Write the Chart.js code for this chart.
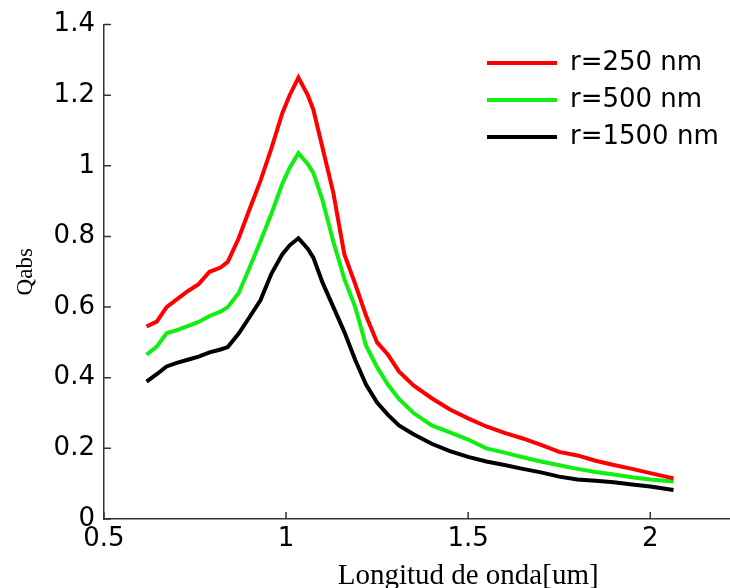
<!DOCTYPE html>
<html>
<head>
<meta charset="utf-8">
<script src="https://cdn.jsdelivr.net/npm/chart.js@4/dist/chart.umd.min.js"></script>
<style>
  html, body { margin: 0; padding: 0; background: #fff; overflow: hidden; }
  #wrap { width: 730px; height: 588px; overflow: hidden; position: relative; }
  #qabsChart { position: absolute; left: 0; top: 0; }
</style>
</head>
<body>
<div id="wrap"><canvas id="qabsChart" width="860" height="591"></canvas></div>
<script>
// longitud de onda (um), shared by all three curves
const wavelength = [0.617, 0.645, 0.672, 0.70, 0.73, 0.76, 0.79, 0.82, 0.84, 0.87,
  0.90, 0.93, 0.96, 0.99, 1.01, 1.034, 1.06, 1.075, 1.10, 1.13,
  1.16, 1.19, 1.22, 1.25, 1.28, 1.31, 1.35, 1.40, 1.45, 1.50,
  1.55, 1.60, 1.65, 1.70, 1.75, 1.80, 1.85, 1.90, 1.95, 2.00, 2.064];

const qabs250 = [0.545, 0.559, 0.600, 0.622, 0.645, 0.665, 0.700, 0.712, 0.728, 0.795,
  0.878, 0.958, 1.05, 1.15, 1.20, 1.25, 1.20, 1.159, 1.052, 0.923,
  0.75, 0.665, 0.575, 0.50, 0.465, 0.418, 0.378, 0.342, 0.310, 0.285,
  0.262, 0.244, 0.228, 0.210, 0.190, 0.180, 0.165, 0.153, 0.142, 0.130, 0.115];

const qabs500 = [0.465, 0.488, 0.526, 0.535, 0.546, 0.558, 0.575, 0.587, 0.600, 0.640,
  0.712, 0.787, 0.865, 0.95, 0.995, 1.036, 1.005, 0.98, 0.903, 0.785,
  0.68, 0.60, 0.49, 0.43, 0.38, 0.34, 0.30, 0.265, 0.245, 0.225,
  0.20, 0.188, 0.175, 0.163, 0.152, 0.142, 0.133, 0.126, 0.118, 0.112, 0.106];

const qabs1500 = [0.389, 0.41, 0.432, 0.442, 0.451, 0.46, 0.472, 0.480, 0.487, 0.525,
  0.572, 0.62, 0.695, 0.75, 0.775, 0.795, 0.765, 0.74, 0.67, 0.60,
  0.53, 0.45, 0.38, 0.33, 0.295, 0.265, 0.24, 0.213, 0.192, 0.176,
  0.163, 0.153, 0.142, 0.132, 0.120, 0.112, 0.108, 0.104, 0.098, 0.092, 0.082];

const seriesLabels = ["r=250 nm", "r=500 nm", "r=1500 nm"];
const seriesColors = ["#ff0000", "#11ee11", "#000000"];

const xTicks = [0.5, 1, 1.5, 2, 2.5];
const yTicks = [0, 0.2, 0.4, 0.6, 0.8, 1, 1.2, 1.4];

function toPoints(ys) {
  return ys.map((y, i) => ({ x: wavelength[i], y: y }));
}

// matlab style ticks pointing into the plot
const inwardTicks = {
  id: "inwardTicks",
  afterDraw(chart) {
    const ctx = chart.ctx;
    const xs = chart.scales.x, ys = chart.scales.y;
    ctx.save();
    ctx.strokeStyle = "#333";
    ctx.lineWidth = 1.5;
    ctx.beginPath();
    xTicks.forEach((v) => {
      const px = xs.getPixelForValue(v);
      ctx.moveTo(px, ys.bottom);
      ctx.lineTo(px, ys.bottom - 7);
    });
    yTicks.forEach((v) => {
      const py = ys.getPixelForValue(v);
      ctx.moveTo(xs.left, py);
      ctx.lineTo(xs.left + 7, py);
    });
    ctx.stroke();
    ctx.restore();
  },
};

// put the legend box up at the top right, inside the plot
const legendPlace = {
  id: "legendPlace",
  afterLayout(chart) {
    const lg = chart.legend;
    const w = lg.width, h = lg.height;
    lg.left = 476;
    lg.top = 39;
    lg.right = lg.left + w;
    lg.bottom = lg.top + h;
  },
};

Chart.defaults.color = "#000";

const fmt = (v) => String(Number(v));

new Chart(document.getElementById("qabsChart"), {
  type: "line",
  data: {
    datasets: seriesLabels.map((lab, i) => ({
      label: lab,
      data: toPoints([qabs250, qabs500, qabs1500][i]),
      borderColor: seriesColors[i],
      backgroundColor: seriesColors[i],
      borderWidth: 4,
      pointRadius: 0,
      tension: 0,
    })),
  },
  options: {
    responsive: false,
    animation: false,
    devicePixelRatio: 1,
    layout: { padding: { left: 12, top: 10, right: 0, bottom: 0 } },
    plugins: {
      tooltip: { enabled: false },
      legend: {
        position: "chartArea",
        align: "start",
        labels: {
          usePointStyle: true,
          pointStyle: "line",
          pointStyleWidth: 70,
          padding: 11,
          color: "#000",
          font: { family: "DejaVu Sans", size: 26 },
        },
      },
    },
    scales: {
      x: {
        type: "linear",
        min: 0.5,
        max: 2.5,
        afterBuildTicks: (s) => { s.ticks = xTicks.map((v) => ({ value: v })); },
        grid: { drawOnChartArea: false, drawTicks: false },
        border: { color: "#333", width: 1.5 },
        ticks: {
          padding: 7,
          maxRotation: 0,
          color: "#000",
          callback: fmt,
          font: { family: "DejaVu Sans", size: 26, lineHeight: 1 },
        },
        title: {
          display: true,
          text: "Longitud de onda[um]",
          color: "#000",
          padding: { top: 3, bottom: 0 },
          font: { family: "Liberation Serif", size: 29, lineHeight: 1 },
        },
      },
      y: {
        min: 0,
        max: 1.4,
        afterBuildTicks: (s) => { s.ticks = yTicks.map((v) => ({ value: v })); },
        grid: { drawOnChartArea: false, drawTicks: false },
        border: { color: "#333", width: 1.5 },
        ticks: {
          padding: 9,
          color: "#000",
          callback: fmt,
          font: { family: "DejaVu Sans", size: 26 },
        },
        title: {
          display: true,
          text: "Qabs",
          color: "#000",
          padding: { top: 0, bottom: 5 },
          font: { family: "Liberation Serif", size: 23 },
        },
      },
    },
  },
  plugins: [inwardTicks, legendPlace],
});
</script>
</body>
</html>
